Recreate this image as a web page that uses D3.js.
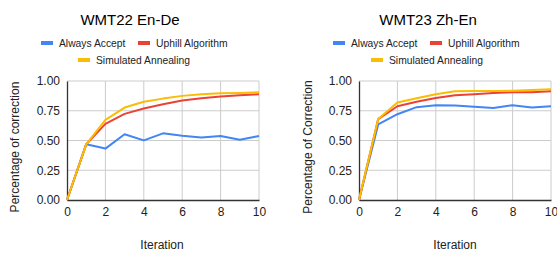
<!DOCTYPE html>
<html>
<head>
<meta charset="utf-8">
<script src="https://cdn.jsdelivr.net/npm/d3@7"></script>
<style>
  body { margin: 0; background: #fff; }
  svg { display: block; font-family: Arial, "Liberation Sans", sans-serif; }
</style>
</head>
<body>
<svg id="chart" width="557" height="253"></svg>
<script>
// data
var iterations = [0, 1, 2, 3, 4, 5, 6, 7, 8, 9, 10];
var seriesNames = ["Always Accept", "Uphill Algorithm", "Simulated Annealing"];
var seriesColors = ["#4285F4", "#EA4335", "#FBBC04"];

var enDeAlways = [0, 0.468, 0.432, 0.552, 0.501, 0.560, 0.540, 0.526, 0.538, 0.507, 0.538];
var enDeUphill = [0, 0.468, 0.640, 0.724, 0.769, 0.805, 0.836, 0.855, 0.869, 0.880, 0.889];
var enDeAnneal = [0, 0.468, 0.674, 0.777, 0.825, 0.852, 0.875, 0.889, 0.897, 0.900, 0.905];

var zhEnAlways = [0, 0.635, 0.721, 0.780, 0.797, 0.794, 0.783, 0.774, 0.797, 0.777, 0.788];
var zhEnUphill = [0, 0.680, 0.788, 0.825, 0.858, 0.880, 0.889, 0.900, 0.905, 0.905, 0.914];
var zhEnAnneal = [0, 0.680, 0.819, 0.855, 0.889, 0.914, 0.916, 0.916, 0.919, 0.925, 0.930];

var xTicks = [0, 2, 4, 6, 8, 10];
var yTicks = [0, 0.25, 0.5, 0.75, 1];

var svg = d3.select("#chart");

function drawPanel(opt) {
    var g = svg.append("g");
    var x = d3.scaleLinear().domain([0, 10]).range([opt.x0, opt.x1]);
    var y = d3.scaleLinear().domain([0, 1]).range([200, 81]);

    // title
    g.append("text").attr("x", opt.titleX).attr("y", 25)
     .attr("text-anchor", "middle").attr("font-size", 15).attr("fill", "#000")
     .text(opt.title);

    // legend
    opt.legend.forEach(function(l, i) {
        g.append("rect").attr("x", l[0]).attr("y", l[1] - 2).attr("width", 12).attr("height", 4)
         .attr("fill", seriesColors[i]);
        g.append("text").attr("x", l[0] + 18).attr("y", l[1] + 3.5)
         .attr("font-size", 10.3).attr("fill", "#222").text(seriesNames[i]);
    });

    // grid
    g.selectAll(".vg").data(xTicks.slice(1)).enter().append("line")
     .attr("x1", d => x(d)).attr("x2", d => x(d)).attr("y1", y(0)).attr("y2", y(1))
     .attr("stroke", "#ccc").attr("stroke-width", 1);
    g.selectAll(".hg").data(yTicks.slice(1)).enter().append("line")
     .attr("x1", x(0)).attr("x2", x(10)).attr("y1", d => y(d)).attr("y2", d => y(d))
     .attr("stroke", "#ccc").attr("stroke-width", 1);

    // axes
    var xAxis = g.append("g").attr("transform", "translate(0," + y(0) + ")")
        .call(d3.axisBottom(x).tickValues(xTicks).tickSize(0).tickPadding(7).tickFormat(d3.format("d")));
    var yAxis = g.append("g").attr("transform", "translate(" + x(0) + ",0)")
        .call(d3.axisLeft(y).tickValues(yTicks).tickSize(0).tickPadding(7).tickFormat(d3.format(".2f")));
    [xAxis, yAxis].forEach(function(a) {
        a.select(".domain").attr("stroke", "#333").attr("stroke-width", 1.3);
        a.selectAll("text").attr("font-size", 12).attr("fill", "#222")
         .attr("font-family", "Arial, 'Liberation Sans', sans-serif");
    });

    // lines
    var line = d3.line().x((d, i) => x(iterations[i])).y(d => y(d));
    opt.series.forEach(function(s, i) {
        g.append("path").datum(s).attr("d", line).attr("fill", "none")
         .attr("stroke", seriesColors[i]).attr("stroke-width", 2).attr("stroke-linejoin", "round");
    });

    // axis titles
    g.append("text").attr("x", opt.xTitleX).attr("y", 249).attr("text-anchor", "middle")
     .attr("font-size", 12).attr("fill", "#222").text("Iteration");
    g.append("text").attr("transform", "translate(" + opt.yTitleX + ",147) rotate(-90)")
     .attr("text-anchor", "middle").attr("font-size", 12).attr("fill", "#222").text(opt.yTitle);
}

drawPanel({
    title: "WMT22 En-De", titleX: 130, x0: 67, x1: 259,
    legend: [[41, 43], [138, 43], [78, 60]],
    series: [enDeAlways, enDeUphill, enDeAnneal],
    xTitleX: 162, yTitleX: 19, yTitle: "Percentage of correction"
});
drawPanel({
    title: "WMT23 Zh-En", titleX: 428, x0: 359, x1: 551,
    legend: [[333, 43], [430, 43], [371, 60]],
    series: [zhEnAlways, zhEnUphill, zhEnAnneal],
    xTitleX: 455, yTitleX: 312, yTitle: "Percentage of Correction"
});
</script>
</body>
</html>
